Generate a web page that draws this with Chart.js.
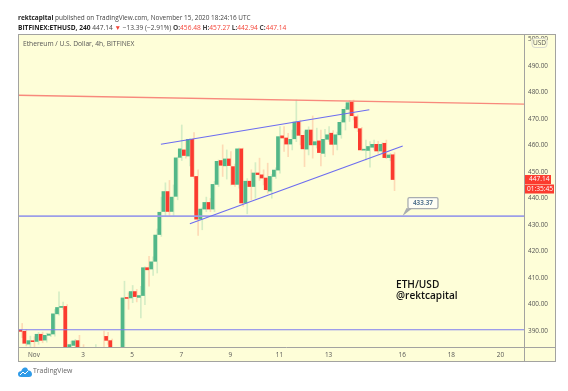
<!DOCTYPE html>
<html>
<head>
<meta charset="utf-8">
<style>
    html, body { margin: 0; padding: 0; background: #fff; }
    #wrap { position: relative; width: 568px; height: 391px; overflow: hidden; font-family: "Open Sans", sans-serif; filter: blur(0.4px); }
    canvas { position: absolute; left: 0; top: 0; }
    .txt { position: absolute; white-space: nowrap; line-height: 1; }
    .r { color: #f44336; }
</style>
</head>
<body>
<div id="wrap">
    <canvas id="chart" width="568" height="391"></canvas>
    <div class="txt" style="left:18px;top:15px;font-size:6.45px;color:#444"><b style="color:#222">rektcapital</b> published on TradingView.com, November 15, 2020 18:24:16 UTC</div>
    <div class="txt" style="left:18px;top:25px;font-size:6.6px;color:#444"><b style="color:#222">BITFINEX:ETHUSD, 240</b> 447.14 <span class="r">▼</span> −13.39 (−2.91%) <b>O:</b><span class="r">456.48</span> <b>H:</b><span class="r">457.27</span> <b>L:</b><span class="r">442.94</span> <b>C:</b><span class="r">447.14</span></div>
    <div class="txt" style="left:23px;top:41px;font-size:6.66px;color:#555">Ethereum / U.S. Dollar, 4h, BITFINEX</div>
    <div class="txt" style="left:396px;top:279px;font-size:10.1px;color:#111;font-weight:600">ETH/USD</div>
    <div class="txt" style="left:396px;top:290px;font-size:10.1px;color:#111;font-weight:600">@rektcapital</div>
    <svg style="position:absolute;left:18px;top:367px" width="14" height="10" viewBox="0 0 14 10">
        <path d="M0 7 C0 5 2 4 3 4.5 C4 1.5 6 0 7.5 0.5 C9 0.5 10 2 10 3.5 C12 3 14 5 14 7 C14 9 13 10 11 10 L3 10 C1 10 0 9 0 7 Z" fill="#2f9be8"/>
        <path d="M2 8 L5 5 L7 7 L10 4" stroke="#fff" stroke-width="1" fill="none"/>
    </svg>
    <div class="txt" style="left:33px;top:368px;font-size:6.9px;color:#666">TradingView</div>
</div>
<script src="https://cdn.jsdelivr.net/npm/chart.js@4"></script>
<script>
// candles, 4h each, the first one sits at index firstCandle (0 = Nov 1 00:00)
const firstCandle = -4;
const opens  = [384,390.4,389.9,385.1,386.3,386.1,388.8,386.6,388.4,388.9,396.5,398.9,399.3,384.1,384.6,386.4,383.2,382,382,381,381.5,383.5,388,386.4,383,382,383,402.6,402.5,404.9,402.7,403.4,413.9,413.4,416.3,426.4,435.1,442.6,435.1,440.8,455.5,458.3,456,462.3,448.3,432.2,436,438.5,436,445.3,454.3,452.3,454.9,452,445.3,458.7,438.3,446.5,444.5,449.6,448.9,447.7,442.8,448.3,450.7,463.6,462.8,460.5,462.5,468.8,463.8,458.6,465.8,460.2,461.7,457,462.3,464.6,460.4,464,468.8,473.6,476.3,470.8,466.3,458.2,458.1,459.3,460.4,457.9,460.8,455.4,456.48];
const closes = [390.6,389.9,385.4,386.4,386,388.8,386.5,388.4,388.9,396.5,398.9,399.3,383,384.9,386.3,383.5,382.5,381.5,381.5,381.5,381,383,386.5,383,382,383,402.5,402.3,404.9,403,403.4,413.9,413.1,416.1,426.2,434.8,442.6,435.1,440.5,455.3,458.7,456.2,462.3,448.3,432.2,436,438.5,436,445.3,454,452.5,454.9,452.4,445.3,458.7,438.3,446.5,444.5,449.6,449,447.7,443.3,448.3,450.7,463.3,462.8,460.5,462.3,468.8,463.8,458.7,465.8,460.2,461.4,457.3,462.3,464,460.4,464,468.7,473.6,476.1,471.2,466.6,458.3,458.5,459.6,460.4,457.9,460.4,455.4,456.4,447.14];
const highs  = [391.5,392.9,390.6,388.1,387.9,389.5,389.6,389.2,390.3,398.1,404.8,400.9,400,386.2,386.9,388.4,384.9,383,383,384.9,383,390,389.5,387,383.5,383.5,408.8,404.4,407.2,405.7,406.9,414.2,418.2,418,428.5,440.5,445.9,446.8,445.1,455.6,467.7,462,462.7,464.8,450.8,436.5,440.5,440,446.4,454.5,460.2,458.3,457.7,453,459,459,447.5,450.8,453.5,455.2,450.8,453.3,449,451.5,467.1,467.1,464.6,465.8,477.1,469.5,465.2,467,471.1,466.5,465.8,466.1,467.1,465.6,465,469.5,474.5,477,477.1,471.5,466.8,462,461.4,462,461.5,461,462,457,457.27];
const lows   = [380,387.5,384.4,384.1,384.1,385,385.6,385.8,387.9,388.1,396,398.2,382,383,383.9,382,380,380,380,380,380,383,385,382,381,381,382,398.2,400.7,401,395,400,406.9,411,411.9,425.7,433.2,433.2,433.5,439.5,454.3,455.2,452.3,447.6,426.1,428.2,435,435,435,444.5,448.3,447.3,445.1,444.5,443.9,437,434.2,439.5,440.1,446.8,445.1,442,440.1,447.6,449.5,457.7,455.8,458.3,461.4,460.2,452,456.4,455.2,459,452.3,455.8,461.5,456.4,458.3,462.7,465.8,469,469.6,465.2,458,454.5,451.8,458.3,457,457,455,454.2,442.94];

// drawn lines as [day of Nov, price]
const resistanceLine = [[0.35, 478.9], [20.96, 475.6]];
const wedgeUpper     = [[6.17, 460.45], [14.66, 473.46]];
const wedgeLower     = [[7.35, 430.49], [16.02, 459.81]];
const supportLine    = [[0.35, 433.37], [20.96, 433.37]];
const lowerLine      = [[0.35, 390.5], [20.96, 390.5]];

const xTickDays   = [1, 3, 5, 7, 9, 11, 13, 16, 18, 20];
const xTickLabels = ['Nov', '3', '5', '7', '9', '11', '13', '16', '18', '20'];
const yTicks      = [390, 400, 410, 420, 430, 440, 450, 460, 470, 480, 490, 500];
const lastPrice   = 447.14;
const countdown   = '01:35:45';
const calloutAt   = [16.01, 433.37];
const calloutText = '433.37';

const upColor = '#52b788', downColor = '#fb3b2f';
const upWick = 'rgba(82,183,136,0.24)', downWick = 'rgba(251,90,60,0.22)';

let days = opens.map( ( v, i ) => 1 + ( i + firstCandle ) / 6 );
let isUp = opens.map( ( v, i ) => closes[i] >= v );
let toPoints = ( line ) => line.map( ( p ) => ( { x: p[0], y: p[1] } ) );

let lineSet = ( line, color, width ) => ( {
    type: 'line', data: toPoints( line ), borderColor: color, borderWidth: width,
    pointRadius: 0, tension: 0, order: 0
} );

let framePlugin = {
    id: 'frame',
    beforeDraw: ( chart ) => {
        let ctx = chart.ctx;
        ctx.save();
        ctx.fillStyle = '#fefed8';
        ctx.fillRect( 18, 34, 537, 327 );
        ctx.restore();
    },
    afterDraw: ( chart ) => {
        let ctx = chart.ctx, a = chart.chartArea, y = chart.scales.y, x = chart.scales.x;
        ctx.save();
        ctx.strokeStyle = '#a3a3a0';
        ctx.lineWidth = 1;
        ctx.strokeRect( 18.5, 34.5, 537, 327 );
        ctx.beginPath();
        ctx.moveTo( a.right + 0.5, 34 ); ctx.lineTo( a.right + 0.5, 361 );
        ctx.moveTo( 18, a.bottom + 0.5 ); ctx.lineTo( 555, a.bottom + 0.5 );
        ctx.stroke();

        // price tags on the right axis
        let py = y.getPixelForValue( lastPrice );
        ctx.fillStyle = '#fb3b2f';
        ctx.fillRect( a.right + 1, py - 4.5, 26, 9 );
        ctx.fillRect( a.right + 1, py + 5, 29, 9 );
        ctx.fillStyle = '#fff';
        ctx.font = '6.6px "Open Sans"';
        ctx.textBaseline = 'middle';
        ctx.textAlign = 'left';
        ctx.fillText( lastPrice.toFixed( 2 ), a.right + 5, py );
        ctx.fillText( countdown, a.right + 3, py + 9.5 );

        // USD badge
        ctx.fillStyle = '#fefed8';
        ctx.strokeStyle = '#d8d8d0';
        ctx.beginPath();
        ctx.roundRect( 532, 38.5, 15, 9, 3 );
        ctx.fill(); ctx.stroke();
        ctx.fillStyle = '#555';
        ctx.textAlign = 'center';
        ctx.fillText( 'USD', 539.5, 43.2 );

        // callout
        let cx = x.getPixelForValue( calloutAt[0] ), cy = y.getPixelForValue( calloutAt[1] );
        ctx.strokeStyle = '#a9adb0';
        ctx.fillStyle = '#a9adb0';
        ctx.lineWidth = 1.3;
        ctx.beginPath();
        ctx.moveTo( cx, cy ); ctx.lineTo( cx + 9, cy - 7 ); ctx.lineTo( cx + 4, cy - 8 );
        ctx.closePath(); ctx.fill();
        ctx.fillStyle = '#fefef4';
        ctx.beginPath();
        ctx.roundRect( cx + 5.5, cy - 18.5, 30, 11, 1.5 );
        ctx.fill(); ctx.stroke();
        ctx.fillStyle = '#5b7a94';
        ctx.font = 'bold 6.4px "Open Sans"';
        ctx.fillText( calloutText, cx + 20.5, cy - 12.8 );
        ctx.restore();
    }
};

let ctx = document.getElementById( 'chart' ).getContext( '2d' );
new Chart( ctx, {
    type: 'bar',
    data: {
        datasets: [
            {
                data: days.map( ( d, i ) => ( { x: d, y: [ lows[i], highs[i] ] } ) ),
                backgroundColor: isUp.map( ( u ) => u ? upWick : downWick ),
                barThickness: 1, order: 3
            },
            {
                data: days.map( ( d, i ) => ( { x: d, y: [ opens[i], closes[i] ] } ) ),
                backgroundColor: isUp.map( ( u ) => u ? upColor : downColor ),
                barThickness: 3, minBarLength: 1, order: 2
            },
            lineSet( resistanceLine, '#f8897c', 1.3 ),
            lineSet( wedgeUpper, '#6c6cf0', 1.1 ),
            lineSet( wedgeLower, '#6c6cf0', 1.1 ),
            lineSet( supportLine, '#9c9ee8', 1.8 ),
            lineSet( lowerLine, '#7c7cf0', 1 )
        ]
    },
    options: {
        responsive: false,
        animation: false,
        events: [],
        layout: { padding: { left: 18, top: 34, right: 13, bottom: 30 } },
        plugins: { legend: { display: false }, tooltip: { enabled: false } },
        scales: {
            x: {
                type: 'linear', offset: false, min: 0.35, max: 20.96, stacked: false,
                grid: { display: false, drawTicks: true, tickLength: 2, tickColor: '#999' },
                border: { display: false },
                afterBuildTicks: ( s ) => { s.ticks = xTickDays.map( ( v ) => ( { value: v } ) ); },
                afterFit: ( s ) => { s.height = 14; },
                ticks: {
                    autoSkip: false, maxRotation: 0, padding: 2, color: '#555', font: { family: 'Open Sans', size: 6.4 },
                    callback: ( v ) => xTickLabels[ xTickDays.indexOf( v ) ]
                }
            },
            y: {
                position: 'right', min: 384, max: 502,
                grid: { display: false, drawTicks: true, tickLength: 2, tickColor: '#999' },
                border: { display: false },
                afterBuildTicks: ( s ) => { s.ticks = yTicks.map( ( v ) => ( { value: v } ) ); },
                afterFit: ( s ) => { s.width = 31; },
                ticks: {
                    autoSkip: false, padding: 2, color: '#555', font: { family: 'Open Sans', size: 6.4 },
                    callback: ( v ) => v.toFixed( 2 )
                }
            }
        }
    },
    plugins: [ framePlugin ]
} );
</script>
</body>
</html>
